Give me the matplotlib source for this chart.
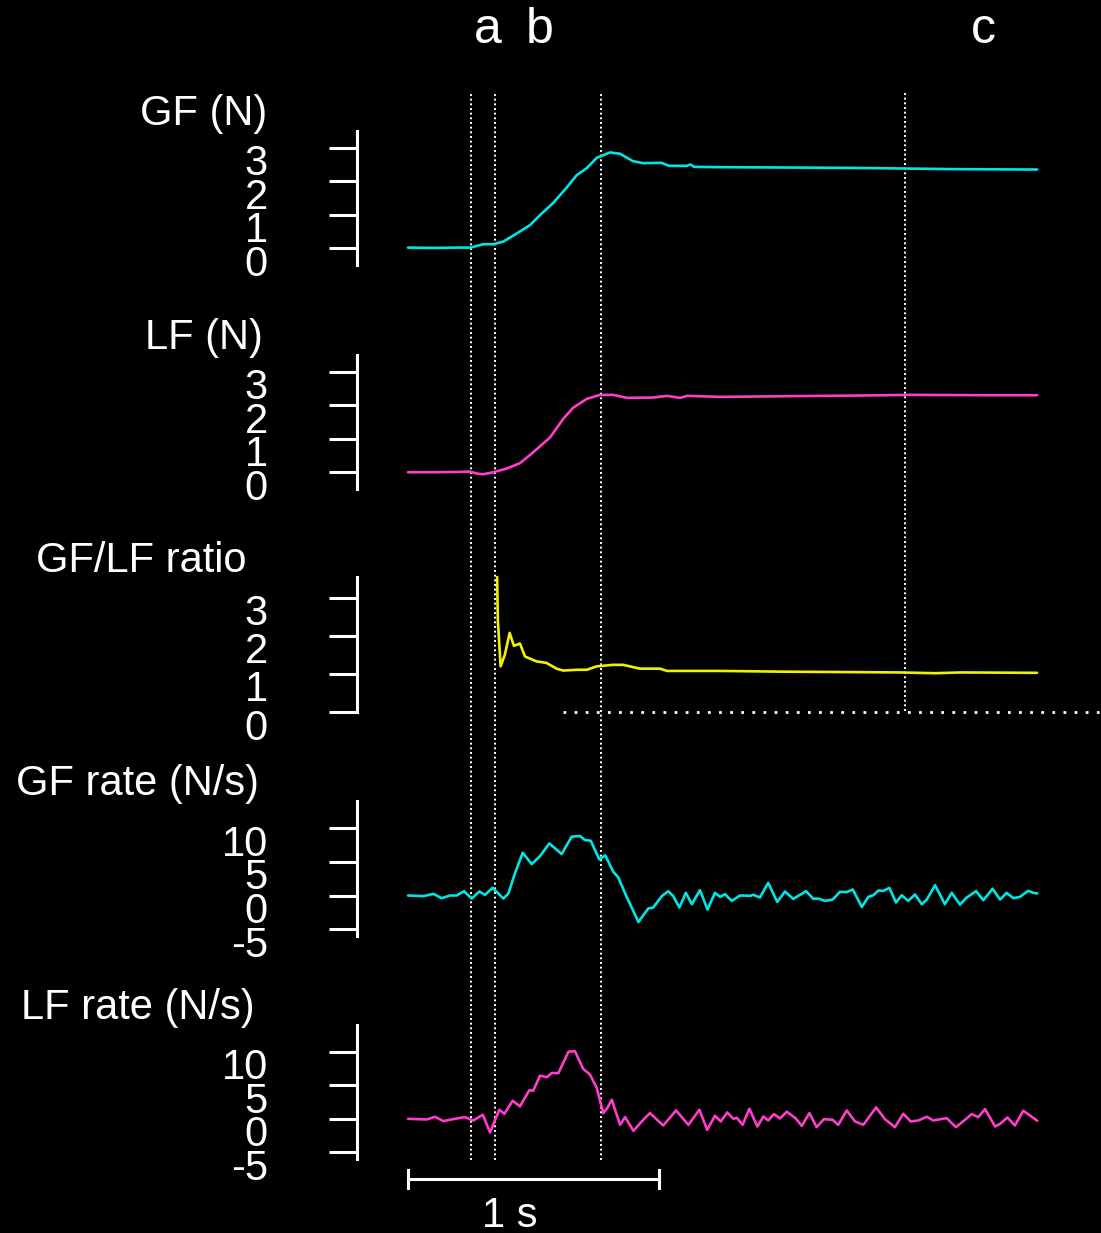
import matplotlib
matplotlib.use("Agg")
import matplotlib.pyplot as plt
import matplotlib.transforms as mtransforms

W, H = 1101, 1233
plt.rcParams["font.family"] = ["Liberation Sans", "DejaVu Sans"]

CYAN = "#00e6e6"
MAGENTA = "#ff3dcc"
YELLOW = "#f2f200"

# time in seconds, t = 0 at the start of the traces
gf_t = [0.0, 0.10, 0.20, 0.25, 0.30, 0.34, 0.38, 0.433, 0.486, 0.526, 0.578, 0.632, 0.672, 0.712,
        0.752, 0.805, 0.845, 0.896, 0.936, 1.01, 1.04, 1.11, 1.125, 1.14, 1.24, 1.50, 1.75, 1.98,
        2.20, 2.506]
gf_v = [0.02, 0.01, 0.02, 0.02, 0.12, 0.12, 0.20, 0.44, 0.69, 0.99, 1.35, 1.81, 2.18, 2.39,
        2.70, 2.86, 2.82, 2.60, 2.54, 2.55, 2.46, 2.46, 2.50, 2.43, 2.42, 2.41, 2.40, 2.38,
        2.36, 2.35]

lf_t = [0.0, 0.10, 0.20, 0.247, 0.274, 0.299, 0.339, 0.393, 0.446, 0.498, 0.566, 0.618, 0.657,
        0.712, 0.765, 0.817, 0.873, 0.976, 1.032, 1.084, 1.112, 1.243, 1.50, 1.80, 2.00, 2.30, 2.506]
lf_v = [0.0, 0.0, 0.01, 0.02, -0.04, -0.06, 0.0, 0.11, 0.27, 0.59, 1.04, 1.59, 1.92,
        2.19, 2.31, 2.31, 2.22, 2.23, 2.28, 2.22, 2.28, 2.25, 2.27, 2.29, 2.31, 2.30, 2.30]

ratio_t = [0.355, 0.358, 0.369, 0.386, 0.405, 0.422, 0.446, 0.466, 0.512, 0.552, 0.592, 0.618,
           0.672, 0.712, 0.752, 0.817, 0.857, 0.924, 1.004, 1.032, 1.243, 1.50, 1.75, 1.96, 2.10,
           2.20, 2.506]
ratio_v = [3.55, 2.40, 1.20, 1.51, 2.08, 1.74, 1.80, 1.46, 1.33, 1.29, 1.14, 1.09,
           1.11, 1.11, 1.20, 1.24, 1.24, 1.14, 1.14, 1.08, 1.08, 1.06, 1.05, 1.04, 1.02,
           1.04, 1.03]

gfr_t = [0.0, 0.061, 0.101, 0.134, 0.167, 0.194, 0.223, 0.254, 0.284, 0.307, 0.337, 0.360, 0.380,
         0.400, 0.426, 0.457, 0.493, 0.526, 0.563, 0.612, 0.652, 0.685, 0.705, 0.728, 0.762, 0.786,
         0.818, 0.838, 0.871, 0.918, 0.957, 0.977, 1.011, 1.037, 1.057, 1.081, 1.107, 1.131, 1.163,
         1.179, 1.193, 1.223, 1.243, 1.263, 1.290, 1.323, 1.363, 1.376, 1.402, 1.435, 1.471, 1.502,
         1.535, 1.586, 1.615, 1.635, 1.661, 1.692, 1.721, 1.748, 1.772, 1.808, 1.834, 1.854, 1.874,
         1.894, 1.918, 1.944, 1.967, 1.993, 2.020, 2.047, 2.067, 2.100, 2.139, 2.166, 2.199, 2.226,
         2.263, 2.292, 2.329, 2.359, 2.385, 2.412, 2.438, 2.471, 2.491, 2.507]
gfr_v = [0.0, -0.1, 0.24, -0.4, 0.0, 0.0, 0.64, -0.45, 0.59, 0.1, 1.13, 0.3, -0.45,
         0.3, 3.27, 6.33, 4.65, 5.84, 7.72, 6.14, 8.71, 8.81, 8.22, 8.11, 5.35, 5.94,
         3.51, 2.67, -0.2, -3.92, -1.93, -1.78, -0.1, 0.64, -0.1, -1.78, 0.39, -1.29, 0.79,
         -0.7, -2.08, 0.39, -0.2, 0.19, -0.8, 0.0, -0.05, 0.1, -0.3, 1.87, -0.95, 0.59,
         -0.5, 0.64, -0.5, -0.45, -0.8, -0.6, 0.54, 0.5, 0.89, -1.69, -0.2, 0.04, 0.74,
         0.69, 1.13, -1.04, 0.04, -0.8, 0.15, -1.29, -0.6, 1.53, -1.29, 0.39, -1.34, -0.3,
         0.64, -0.7, 0.99, -0.6, 0.39, -0.4, -0.2, 0.69, 0.4, 0.3]

lfr_t = [0.0, 0.075, 0.108, 0.141, 0.180, 0.227, 0.260, 0.298, 0.327, 0.347, 0.364, 0.384, 0.417,
         0.446, 0.483, 0.499, 0.526, 0.553, 0.573, 0.599, 0.639, 0.665, 0.698, 0.725, 0.752, 0.778,
         0.794, 0.812, 0.825, 0.845, 0.865, 0.898, 0.931, 0.964, 1.017, 1.068, 1.117, 1.161, 1.192,
         1.223, 1.246, 1.272, 1.296, 1.310, 1.333, 1.360, 1.392, 1.416, 1.435, 1.458, 1.482, 1.509,
         1.542, 1.569, 1.599, 1.628, 1.657, 1.692, 1.714, 1.748, 1.781, 1.814, 1.865, 1.900, 1.940,
         1.973, 2.003, 2.033, 2.067, 2.093, 2.146, 2.183, 2.219, 2.246, 2.272, 2.299, 2.339, 2.359,
         2.388, 2.418, 2.451, 2.478, 2.507]
lfr_v = [0.0, -0.1, 0.3, -0.35, -0.05, 0.25, -0.25, 0.6, -2.05, -0.15, 1.35, 0.75, 2.7,
         1.85, 4.25, 4.2, 6.45, 6.2, 6.85, 6.8, 10.0, 10.1, 7.45, 6.6, 4.6, 0.85,
         1.6, 2.85, 1.35, -0.9, 0.25, -1.8, -0.4, 0.85, -1.0, 1.25, -0.9, 1.35, -1.65,
         0.45, -0.4, 0.95, 0.0, 0.15, -0.9, 1.5, -1.15, 0.35, -0.25, 0.7, 0.05, 1.05,
         0.15, -1.05, 0.85, -1.25, -0.05, -0.15, -0.9, 1.25, -0.4, -0.9, 1.7, -0.05, -1.25,
         0.75, -0.4, -0.25, 0.3, -0.25, 0.1, -1.25, -0.15, 0.7, 0.25, 1.45, -1.15, -0.75,
         0.2, -1.0, 1.2, 0.5, -0.3]

force_ticks = [0, 1, 2, 3]
rate_ticks = [-5, 0, 5, 10]
event_times = [0.251, 0.347, 0.769]
event_c = 1.980
event_labels = ["a", "b", "c"]
event_label_t = [0.319, 0.526, 2.291]

# px per second on the time axis and where t = 0 sits
PX_S = 251.0
X0 = 408.0
AX_LEFT = 357.0
XLIM = ((AX_LEFT - X0) / PX_S, (W - X0) / PX_S)
FS = 30

fig = plt.figure(figsize=(W / 100, H / 100), dpi=100, facecolor="black")
trace = dict(lw=1.9, solid_joinstyle="round", solid_capstyle="round")


def px_box(top, bottom):
    return [AX_LEFT / W, 1 - bottom / H, (W - AX_LEFT) / W, (bottom - top) / H]


def panel(top, bottom, ylim, ticks, title, title_x, title_y):
    ax = fig.add_axes(px_box(top, bottom))
    ax.set_facecolor("none")
    ax.set_xlim(*XLIM)
    ax.set_ylim(*ylim)
    for s in ["top", "right", "bottom"]:
        ax.spines[s].set_visible(False)
    ax.spines["left"].set_color("white")
    ax.spines["left"].set_linewidth(2.2)
    ax.set_xticks([])
    ax.set_yticks(ticks)
    ax.tick_params(axis="y", direction="out", length=20, width=2.2, color="white",
                   labelleft=False)
    # labels hang below their tick: digit top level with the tick
    tr = mtransforms.offset_copy(ax.get_yaxis_transform(), fig=fig, y=-27.5, units="dots")
    for v in ticks:
        ax.text((268 - AX_LEFT) / (W - AX_LEFT), v, str(v), transform=tr, ha="right",
                va="baseline", color="white", fontsize=FS)
    fig.text(title_x / W, 1 - title_y / H, title, ha="right", va="baseline",
             color="white", fontsize=FS)
    return ax


ax1 = panel(131, 265, (-0.5, 3.5), force_ticks, "GF (N)", 267, 125)
ax1.plot(gf_t, gf_v, color=CYAN, **trace)

ax2 = panel(355, 489, (-0.5, 3.5), force_ticks, "LF (N)", 263, 349)
ax2.plot(lf_t, lf_v, color=MAGENTA, **trace)

ax3 = panel(577, 712, (0, 3.55), force_ticks, "GF/LF ratio", 247, 572)
ax3.plot(ratio_t, ratio_v, color=YELLOW, clip_on=False, **trace)
ax3.plot([(563 - X0) / PX_S, XLIM[1]], [0, 0], color="white", lw=2,
         linestyle=(0, (1, 3)), clip_on=False)

ax4 = panel(801, 936, (-6, 14), rate_ticks, "GF rate (N/s)", 259, 795)
ax4.plot(gfr_t, gfr_v, color=CYAN, **trace)

ax5 = panel(1025, 1159, (-6, 14), rate_ticks, "LF rate (N/s)", 255, 1019)
ax5.plot(lfr_t, lfr_v, color=MAGENTA, **trace)

# overlay: time on x, pixel rows on y, for event lines and the scale bar
ov = fig.add_axes([0, 0, 1, 1], zorder=-1)
ov.set_facecolor("none")
ov.axis("off")
ov.set_xlim(-X0 / PX_S, (W - X0) / PX_S)
ov.set_ylim(H, 0)
dots = dict(color="white", lw=1.4, linestyle=(0, (1, 1.4)))
for t in event_times:
    ov.plot([t, t], [94, 1160], **dots)
ov.plot([event_c, event_c], [93, 712], **dots)
for lab, t in zip(event_labels, event_label_t):
    ov.text(t, 43, lab, ha="center", va="baseline", color="white", fontsize=36)

ov.plot([0, 1], [1179, 1179], color="white", lw=2.2)
ov.plot([0, 0], [1170, 1188], color="white", lw=2.2)
ov.plot([1, 1], [1170, 1188], color="white", lw=2.2)
ov.text(0.406, 1227, "1 s", ha="center", va="baseline", color="white", fontsize=FS)

fig.savefig("out.png", dpi=100, facecolor="black")
plt.close(fig)
